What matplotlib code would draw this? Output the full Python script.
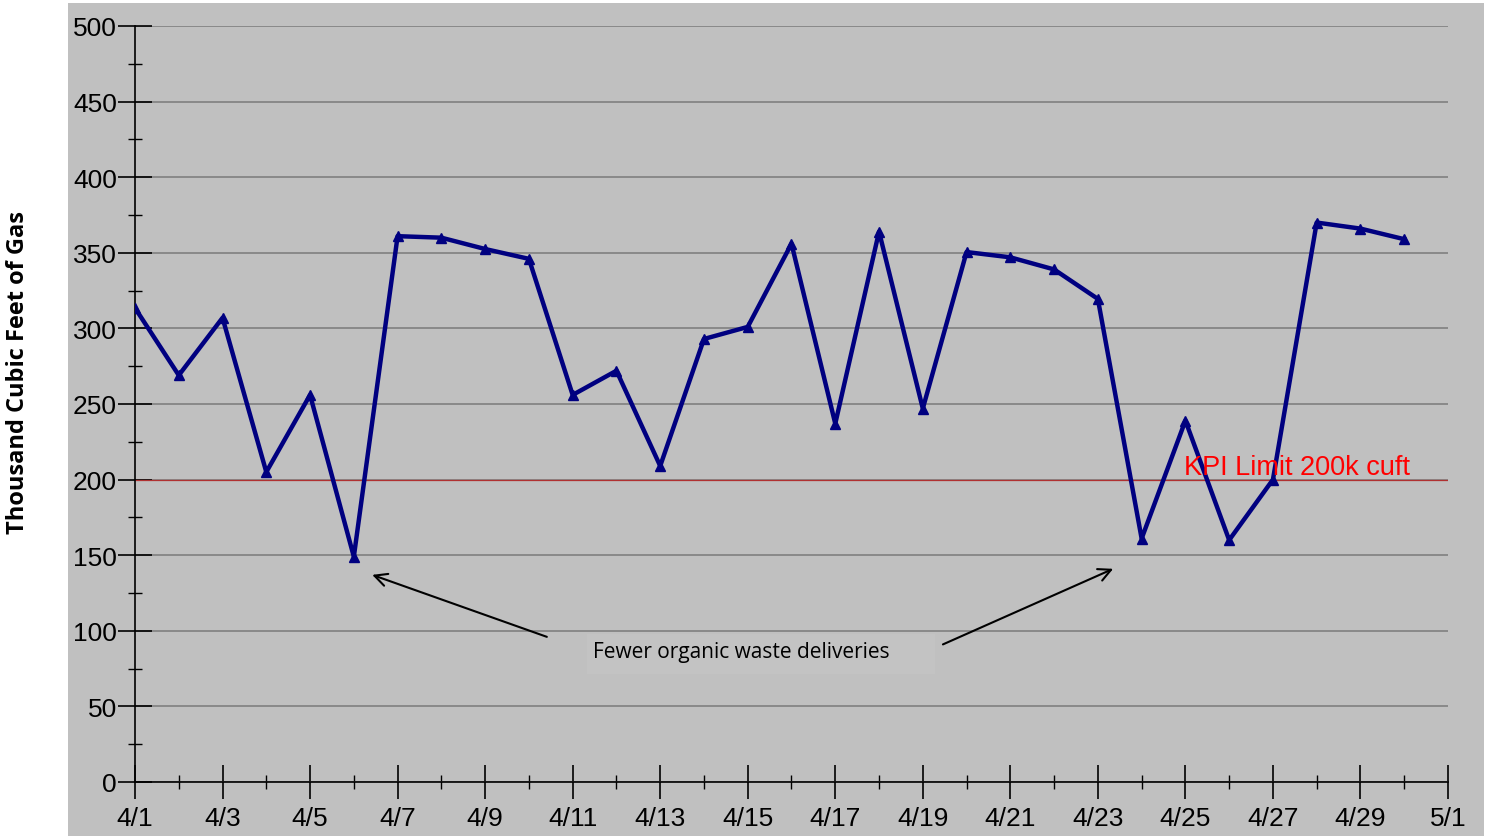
import datetime as dt
import matplotlib
matplotlib.use("Agg")
import matplotlib.pyplot as plt
import matplotlib.dates as mdates
from matplotlib.patches import Rectangle

# Daily biogas production, April (thousand cubic feet)
days = [dt.date(2024, 4, d) for d in range(1, 31)]
gas_kcf = [313.5, 269, 307, 205, 256, 149, 361, 360, 352.5, 346,
           256, 272, 209, 293, 301, 356, 237, 364, 247, 350.5,
           347, 339, 319.5, 161, 239, 160, 200, 370, 366, 359]
kpi_limit = 200
kpi_label = "KPI Limit 200k cuft"
note_text = "Fewer organic waste deliveries"
y_label = "Thousand Cubic Feet of Gas"

W, H = 1486, 837
fig = plt.figure(figsize=(W / 100, H / 100), dpi=100)
fig.patch.set_facecolor("white")

# grey panel behind the chart
fig.patches.append(Rectangle((68 / W, 0), (1484 - 68) / W, (H - 4) / H,
                             transform=fig.transFigure, facecolor="#c0c0c0",
                             edgecolor="none", zorder=-10))

ax = fig.add_axes([135 / W, 54 / H, (1448 - 135) / W, (783 - 27) / H])
ax.set_facecolor("none")
ax.set_zorder(1)

ax.set_xlim(dt.date(2024, 4, 1), dt.date(2024, 5, 1))
ax.set_ylim(0, 500)

ax.grid(axis="y", color="#808080", linewidth=1.2, zorder=1)
ax.axhline(kpi_limit, color="#b03030", linewidth=0.9, zorder=2)

ax.plot(days, gas_kcf, color="#000080", linewidth=3.2, marker="^",
        markersize=7, zorder=3)

for s in ("top", "right"):
    ax.spines[s].set_visible(False)
for s in ("left", "bottom"):
    ax.spines[s].set_color("black")
    ax.spines[s].set_linewidth(1.2)

ax.yaxis.set_major_locator(matplotlib.ticker.MultipleLocator(50))
ax.yaxis.set_minor_locator(matplotlib.ticker.MultipleLocator(25))
ax.xaxis.set_major_locator(mdates.DayLocator(bymonthday=list(range(1, 32, 2))))
ax.xaxis.set_minor_locator(mdates.DayLocator())
ax.xaxis.set_major_formatter(matplotlib.ticker.FuncFormatter(
    lambda v, p: "{}/{}".format(mdates.num2date(v).month, mdates.num2date(v).day)))

ax.tick_params(axis="both", which="major", direction="inout",
               width=1.2, color="black", labelsize=19, length=24)
ax.tick_params(axis="x", which="major", pad=5)
ax.tick_params(axis="y", which="major", pad=1)
ax.tick_params(axis="both", which="minor", direction="inout", length=10.5,
               width=1.0, color="black")
for lbl in ax.get_xticklabels() + ax.get_yticklabels():
    lbl.set_fontfamily("Liberation Sans")

fig.text(18 / W, 1 - 372 / H, y_label, rotation=90, ha="center", va="center",
         fontfamily="Open Sans", fontweight="bold", fontsize=17)

x0 = mdates.date2num(dt.date(2024, 4, 1))
ax.text(x0 + 23.97, kpi_limit + 4, kpi_label, color="red",
        fontfamily="Liberation Sans", fontsize=19.5, zorder=4)

# annotation: faint box, text and two arrows
ax.add_patch(Rectangle((x0 + 10.33, 71.4), 7.95, 26.5, facecolor="#c3c3c3",
                       edgecolor="none", zorder=1.5))
ax.text(x0 + 13.85, 86.6, note_text,
        ha="center", va="center", fontfamily="Open Sans", fontsize=15,
        color="black", zorder=4)
arrow = dict(arrowstyle="->,head_length=0.9,head_width=0.45",
             color="black", linewidth=1.5, shrinkA=0, shrinkB=0)
ax.annotate("", xy=(x0 + 5.42, 137), xytext=(x0 + 9.41, 96),
            arrowprops=arrow, zorder=4)
ax.annotate("", xy=(x0 + 22.35, 141), xytext=(x0 + 18.46, 91),
            arrowprops=arrow, zorder=4)

fig.savefig("out.png", dpi=100, facecolor=fig.get_facecolor())
